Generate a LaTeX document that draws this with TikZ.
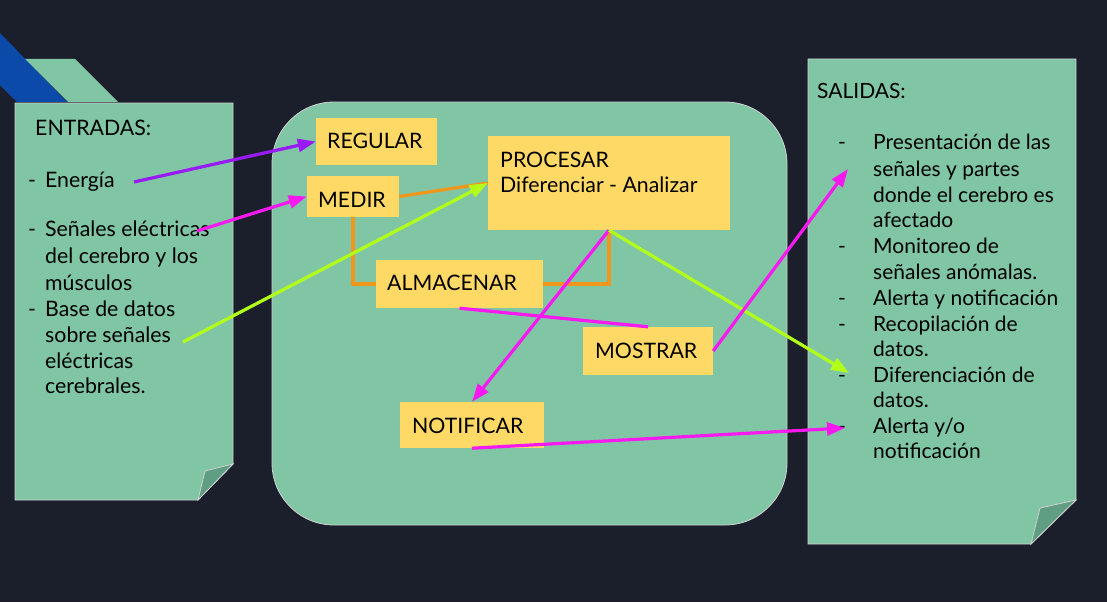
\documentclass[tikz,border=0pt]{standalone}
\usepackage{fontspec}
\setmainfont{Lato}
\usetikzlibrary{arrows.meta}
\definecolor{bg}{HTML}{1B1F2B}
\definecolor{notegreen}{HTML}{80C6A5}
\definecolor{folddark}{HTML}{5F9E82}
\definecolor{edgegrey}{HTML}{D0D0D0}
\definecolor{ybox}{HTML}{FFD966}
\definecolor{decoblue}{HTML}{0B4AA8}
\definecolor{arrorange}{HTML}{F0961A}
\definecolor{arrmag}{HTML}{F719F0}
\definecolor{arrpurple}{HTML}{9A1AF5}
\definecolor{arrlime}{HTML}{B2FF1A}
\begin{document}
\begin{tikzpicture}[x=1pt,y=-1pt,
  note/.style={fill=notegreen,draw=edgegrey,line width=0.8pt},
  fold/.style={fill=folddark,draw=edgegrey,line width=0.8pt},
  yellowbox/.style={fill=ybox,inner sep=0pt,draw=none},
  boxtext/.style={anchor=base west,inner sep=0pt,font=\fontsize{21.3}{26}\selectfont,text=black},
  lefttext/.style={anchor=base west,inner sep=0pt,font=\fontsize{21.3}{26}\selectfont,text=black},
  righttext/.style={anchor=base west,inner sep=0pt,font=\fontsize{21}{26}\selectfont,text=black},
  conn/.style={line width=3.2pt},
  tip/.style={-{Triangle[length=18pt,width=13pt]}}
]
\fill[bg] (0,0) rectangle (1107,602);
\useasboundingbox (0,0) rectangle (1107,602);

% decorative shapes
\fill[decoblue] (0,33) -- (67,102) -- (17,102) -- (0,85) -- cycle;
\fill[notegreen] (25,59) -- (75,59) -- (118,102) -- (68,102) -- cycle;

% left note
\draw[note] (15,103) -- (233,103) -- (233,464) -- (198,500) -- (15,500) -- cycle;
\draw[fold] (233,464) -- (198,500) -- (205,471) -- cycle;

% right note
\draw[note] (808,59) -- (1076,59) -- (1076,500) -- (1031,544) -- (808,544) -- cycle;
\draw[fold] (1076,500) -- (1031,544) -- (1040,508) -- cycle;

% centre rounded box
\draw[note,rounded corners=62pt] (272,102) rectangle (787,525);

% left text
\node[lefttext] (entr) at (35,135) {ENTRADAS:};
\foreach \yy [count=\i] in {187,236,316}
  \node[lefttext] (ld\i) at (28,\yy) {-};
\foreach \yy/\tx [count=\i] in {187/Energía,236/Señales eléctricas,263/del cerebro y los,290/músculos,316/Base de datos,342/sobre señales,368/eléctricas,393/cerebrales.}
  \node[lefttext] (lt\i) at (45,\yy) {\tx};

% right text
\node[righttext] (sal) at (817,98) {SALIDAS:};
\foreach \yy [count=\i] in {149,253,305,331,382,433}
  \node[righttext] (rd\i) at (838,\yy) {-};
\foreach \yy/\tx [count=\i] in {149/Presentación de las,176/señales y partes,202/donde el cerebro es,227/afectado,253/Monitoreo de,279/señales anómalas.,305/Alerta y notificación,331/Recopilación de,356/datos.,382/Diferenciación de,407/datos.,433/{Alerta y/o},458/notificación}
  \node[righttext] (rt\i) at (873,\yy) {\tx};

% yellow boxes
\node[yellowbox,minimum width=121pt,minimum height=47pt] (reg) at (376.5,141.5) {};
\node[yellowbox,minimum width=92pt,minimum height=41pt] (med) at (353,196.5) {};
\node[yellowbox,minimum width=242pt,minimum height=94pt] (proc) at (609,183) {};
\node[yellowbox,minimum width=167pt,minimum height=48pt] (alm) at (459.5,284) {};
\node[yellowbox,minimum width=130pt,minimum height=48pt] (mos) at (648,351) {};
\node[yellowbox,minimum width=144pt,minimum height=46pt] (noti) at (472,425) {};

\node[boxtext] (regt) at (327,148) {REGULAR};
\node[boxtext] (medt) at (318,207) {MEDIR};
\node[boxtext] (proct1) at (500,167) {PROCESAR};
\node[boxtext] (proct2) at (500,192) {Diferenciar - Analizar};
\node[boxtext] (almt) at (387,290) {ALMACENAR};
\node[boxtext] (most) at (595,358) {MOSTRAR};
\node[boxtext] (notit) at (412,433) {NOTIFICAR};

% free ends
\coordinate (cEner) at (134,182);
\coordinate (cSen) at (197,231);
\coordinate (cBase) at (183,342);
\coordinate (cPres) at (848,169);
\coordinate (cDif) at (849,373);
\coordinate (cAler) at (845,428);

% orange connectors
\draw[conn,arrorange] (med.east) -- (proc.west);
\draw[conn,arrorange] (med.south) |- (alm.west);
\draw[conn,arrorange] (alm.east) -| (proc.south);

% input arrows
\draw[conn,arrpurple,tip] (cEner) -- (reg.west);
\draw[conn,arrmag,tip] (cSen) -- (med.west);
\draw[conn,arrlime,tip] (cBase) -- (proc.west);

% internal / output
\draw[conn,arrmag,tip] (proc.south) -- (noti.north);
\draw[conn,arrmag] (alm.south) -- (mos.north);
\draw[conn,arrlime,tip] (proc.south) -- (cDif);
\draw[conn,arrmag,tip] (mos.east) -- (cPres);
\draw[conn,arrmag,tip] (noti.south) -- (cAler);
\end{tikzpicture}
\end{document}
